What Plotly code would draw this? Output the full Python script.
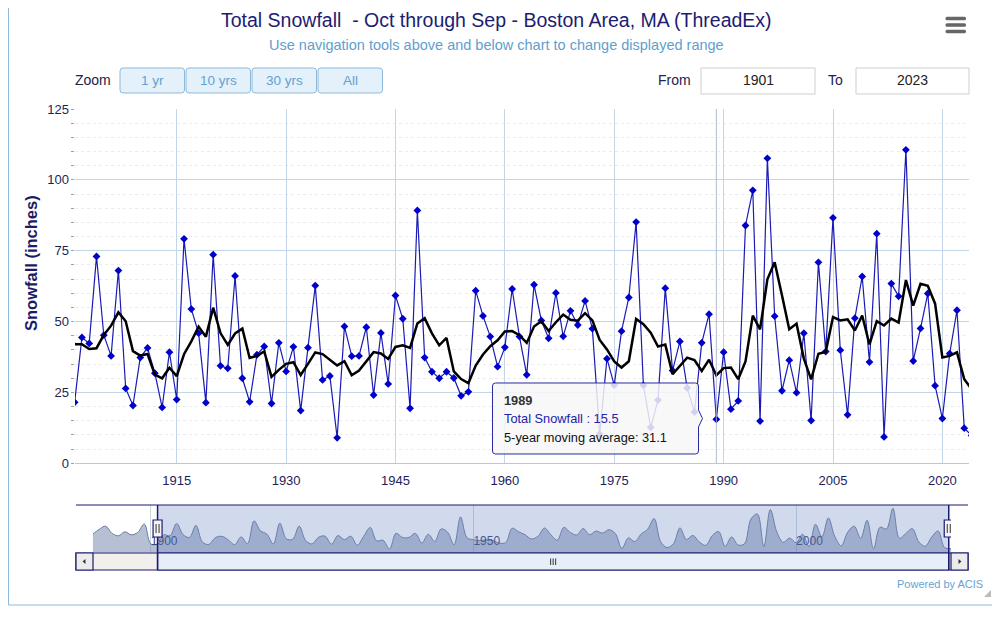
import numpy as np
import plotly.graph_objects as go

# ---------------- data ----------------
years = list(range(1891, 2025))
snowfall = [
    46.0, 58.0, 66.0, 48.0, 42.0, 52.0, 44.4, 50.8, 71.5, 21.8,          # 1891-1900
    21.5,                                                                 # 1901
    44.4, 42.3, 73.0, 45.2, 37.9, 68.0, 26.4, 20.4, 37.3, 40.7,           # 1902-1911
    31.8, 19.7, 39.2, 22.5, 79.2, 54.4, 45.9, 21.4, 73.6, 34.4,           # 1912-1921
    33.5, 66.1, 30.0, 21.7, 38.3, 41.2, 21.1, 42.5, 32.4, 41.1,           # 1922-1931
    18.6, 40.8,                                                           # 1932-1933
    62.7, 29.4, 30.8, 9.0, 48.3, 37.8, 37.9, 48.0, 24.1, 46.0,            # 1934-1943
    28.0, 59.2, 51.0, 19.4, 89.2, 37.3, 32.3, 30.0, 32.3, 30.1,           # 1944-1953
    23.8, 25.2, 60.9, 52.0, 44.7, 34.1, 40.9, 61.5, 44.7, 31.2,           # 1954-1963
    63.0, 50.4, 44.1, 60.1, 44.8, 53.8, 48.8, 57.3, 47.5, 10.3,           # 1964-1973
    36.9, 27.6, 46.6, 58.5, 85.1, 27.5, 12.7, 22.3, 61.8, 32.7,           # 1974-1983
    43.0, 26.6, 18.1, 42.5, 52.6, 15.5, 39.2, 19.1, 22.0, 83.9,           # 1984-1993
    96.3, 14.9, 107.6, 51.9, 25.6, 36.4, 24.9, 45.9, 15.1, 70.9,          # 1994-2003
    39.4, 86.6, 39.9, 17.1, 51.2, 65.9, 35.7, 81.0, 9.3, 63.4,            # 2004-2013
    58.9, 110.6, 36.1, 47.6, 59.9, 27.4, 15.8, 38.7, 54.0, 12.4,          # 2014-2023
    9.8,                                                                  # 2024
]
assert len(snowfall) == len(years)

ma_window = 5
x_view = [1901.05, 2023.65]
main_ticks = [1915, 1930, 1945, 1960, 1975, 1990, 2005, 2020]
nav_ticks = [1900, 1950, 2000]
y_ticks = [0, 25, 50, 75, 100, 125]
hover_year = 1989
range_buttons = ["1 yr", "10 yrs", "30 yrs", "All"]
from_year, to_year = "1901", "2023"

# trailing 5-year moving average (as in the source chart)
ma_vals = np.convolve(np.array(snowfall), np.ones(ma_window) / ma_window, mode="valid")
ma_years = years[ma_window - 1:]

# ---------------- pixel helpers (screen coordinates) ----------------
W, H = 1000, 620
OFF = 8               # page body margin
L, R = 75, 969
T, B = 109, 570
def fx(x):
    return (x - L) / (R - L)
def fy(y):
    return (B - y) / (B - T)
def pt(x, y):
    return f"{fx(x):.5f},{fy(y):.5f}"

def rrect(x0, y0, x1, y1, r):
    return (f"M {pt(x0 + r, y0)} L {pt(x1 - r, y0)} Q {pt(x1, y0)} {pt(x1, y0 + r)} "
            f"L {pt(x1, y1 - r)} Q {pt(x1, y1)} {pt(x1 - r, y1)} L {pt(x0 + r, y1)} "
            f"Q {pt(x0, y1)} {pt(x0, y1 - r)} L {pt(x0, y0 + r)} Q {pt(x0, y0)} {pt(x0 + r, y0)} Z")

NAVY = "#1a1a6e"
GRID = "#c3d5e8"
FONT = "Liberation Sans, Arial, sans-serif"

fig = go.Figure()

# navigator series
fig.add_trace(go.Scatter(
    x=years, y=snowfall, xaxis="x2", yaxis="y2", mode="lines",
    line=dict(shape="spline", smoothing=1.0, color="rgb(108,124,160)", width=1),
    fill="tozeroy", fillcolor="rgba(110,128,168,0.5)", hoverinfo="skip"))

# main series
fig.add_trace(go.Scatter(
    x=years, y=snowfall, mode="lines+markers", name="Total Snowfall",
    line=dict(color="#1a1ab4", width=1.2),
    marker=dict(symbol="diamond", size=6, color="#0000cc"), cliponaxis=True))
fig.add_trace(go.Scatter(
    x=ma_years, y=ma_vals, mode="lines", name="5-year moving average",
    line=dict(color="black", width=2.5)))

shapes = []
ann = []

# chart border
shapes.append(dict(type="rect", xref="paper", yref="paper", x0=fx(8.5), x1=fx(997),
                   y0=fy(605), y1=fy(-5), line=dict(color="#8fbadb", width=1)))

# crosshair at hovered year
shapes.append(dict(type="line", xref="x", yref="paper", x0=hover_year, x1=hover_year,
                   y0=fy(463), y1=1, line=dict(color="rgba(170,180,205,0.9)", width=1), layer="above"))

# tooltip
tip = (f"M {pt(495.5, 383)} L {pt(695.5, 383)} Q {pt(698.5, 383)} {pt(698.5, 386)} "
       f"L {pt(698.5, 410)} L {pt(702.5, 418.5)} L {pt(698.5, 427)} L {pt(698.5, 451)} "
       f"Q {pt(698.5, 454)} {pt(695.5, 454)} L {pt(495.5, 454)} Q {pt(492.5, 454)} {pt(492.5, 451)} "
       f"L {pt(492.5, 386)} Q {pt(492.5, 383)} {pt(495.5, 383)} Z")
shapes.append(dict(type="path", xref="paper", yref="paper", path=tip,
                   fillcolor="rgba(247,247,247,0.85)", line=dict(color="#2a2aa0", width=1), layer="above"))
hi = years.index(hover_year)
mi = ma_years.index(hover_year)
for txt, yy, col in [(f"<b>{hover_year}</b>", 400, "#333333"),
                     (f"Total Snowfall : {snowfall[hi]}", 418.5, "#2222aa"),
                     (f"5-year moving average: {ma_vals[mi]:.1f}", 437, "#111111")]:
    ann.append(dict(x=fx(502), y=fy(yy), xref="paper", yref="paper", text=txt, showarrow=False,
                    xanchor="left", yanchor="middle", font=dict(size=12.8, color=col, family=FONT)))

# title / subtitle
ann.append(dict(x=fx(496), y=fy(20), xref="paper", yref="paper",
                text="Total Snowfall  - Oct through Sep - Boston Area, MA (ThreadEx)",
                showarrow=False, xanchor="center", yanchor="middle",
                font=dict(size=19.5, color="#1c1c70", family=FONT)))
ann.append(dict(x=fx(496), y=fy(45), xref="paper", yref="paper",
                text="Use navigation tools above and below chart to change displayed range",
                showarrow=False, xanchor="center", yanchor="middle",
                font=dict(size=14.5, color="#5fa0cd", family=FONT)))

# y-axis title
ann.append(dict(x=fx(31), y=fy(263), xref="paper", yref="paper", text="<b>Snowfall (inches)</b>",
                showarrow=False, textangle=-90, xanchor="center", yanchor="middle",
                font=dict(size=16.5, color="#1c1c66", family=FONT)))

# range selector
ann.append(dict(x=fx(113), y=fy(80), xref="paper", yref="paper", text="Zoom", showarrow=False,
                xanchor="right", yanchor="middle", font=dict(size=14, color="#22224a", family=FONT)))
bx = [(120, 184.5), (186, 250.5), (252, 316.5), (318, 382.5)]
for (x0, x1), lab in zip(bx, range_buttons):
    shapes.append(dict(type="path", xref="paper", yref="paper", path=rrect(x0, 68, x1, 93, 3),
                       fillcolor="#e4f0fa", line=dict(color="#8dbadb", width=1)))
    ann.append(dict(x=fx((x0 + x1) / 2), y=fy(80), xref="paper", yref="paper", text=lab,
                    showarrow=False, xanchor="center", yanchor="middle",
                    font=dict(size=13.5, color="#62a2d2", family=FONT)))

# From / To inputs
ann.append(dict(x=fx(693), y=fy(80), xref="paper", yref="paper", text="From", showarrow=False,
                xanchor="right", yanchor="middle", font=dict(size=14, color="#22224a", family=FONT)))
ann.append(dict(x=fx(845), y=fy(80), xref="paper", yref="paper", text="To", showarrow=False,
                xanchor="right", yanchor="middle", font=dict(size=14, color="#22224a", family=FONT)))
for (x0, x1), lab in [((701, 815), from_year), ((856, 969), to_year)]:
    shapes.append(dict(type="rect", xref="paper", yref="paper", x0=fx(x0), x1=fx(x1),
                       y0=fy(94), y1=fy(68), fillcolor="white", line=dict(color="#cfcfcf", width=1)))
    ann.append(dict(x=fx((x0 + x1) / 2), y=fy(80), xref="paper", yref="paper", text=lab,
                    showarrow=False, xanchor="center", yanchor="middle",
                    font=dict(size=14, color="#222222", family=FONT)))

# hamburger menu
for yc in (18.5, 25, 31.5):
    shapes.append(dict(type="path", xref="paper", yref="paper",
                       path=rrect(945.5, yc - 1.7, 966, yc + 1.7, 1.5),
                       fillcolor="#666666", line=dict(width=0)))

# ---- navigator ----
shapes.append(dict(type="rect", xref="x2", yref="paper", x0=x_view[0], x1=x_view[1],
                   y0=fy(553), y1=fy(505), fillcolor="rgba(102,133,194,0.3)",
                   line=dict(width=0), layer="above"))
shapes.append(dict(type="line", xref="paper", yref="paper", x0=fx(76), x1=fx(968),
                   y0=fy(505), y1=fy(505), line=dict(color=NAVY, width=1.2)))
# scrollbar
shapes.append(dict(type="rect", xref="paper", yref="paper", x0=fx(76), x1=fx(968),
                   y0=fy(570), y1=fy(553), fillcolor="#f1f0ec", line=dict(color=NAVY, width=1.2)))
shapes.append(dict(type="rect", xref="x2", yref="paper", x0=x_view[0], x1=x_view[1],
                   y0=fy(570), y1=fy(553), fillcolor="#e6eef8", line=dict(color=NAVY, width=1.2)))
for x0, x1 in [(76, 93), (951, 968)]:
    shapes.append(dict(type="rect", xref="paper", yref="paper", x0=fx(x0), x1=fx(x1),
                       y0=fy(570), y1=fy(553), fillcolor="#ececec", line=dict(color=NAVY, width=1.2)))
shapes.append(dict(type="path", xref="paper", yref="paper",
                   path=f"M {pt(82.5, 561.5)} L {pt(85.5, 559)} L {pt(85.5, 564)} Z",
                   fillcolor="#333333", line=dict(width=0)))
shapes.append(dict(type="path", xref="paper", yref="paper",
                   path=f"M {pt(961.5, 561.5)} L {pt(958.5, 559)} L {pt(958.5, 564)} Z",
                   fillcolor="#333333", line=dict(width=0)))
mid = (x_view[0] + x_view[1]) / 2
for off in (-2.5, 0, 2.5):
    shapes.append(dict(type="line", xref="x2", yref="paper", xsizemode="pixel", xanchor=mid,
                       x0=off, x1=off, y0=fy(565), y1=fy(558.5), line=dict(color="#333333", width=1)))
# handles
for xv in x_view:
    shapes.append(dict(type="line", xref="x2", yref="paper", x0=xv, x1=xv,
                       y0=fy(570), y1=fy(505), line=dict(color=NAVY, width=1.5)))
    shapes.append(dict(type="rect", xref="x2", yref="paper", xsizemode="pixel", xanchor=xv,
                       x0=-4.5, x1=4.5, y0=fy(537), y1=fy(520), fillcolor="#f4f4f4",
                       line=dict(color=NAVY, width=1.2)))
    for off in (-1.5, 1.5):
        shapes.append(dict(type="line", xref="x2", yref="paper", xsizemode="pixel", xanchor=xv,
                           x0=off, x1=off, y0=fy(533), y1=fy(524), line=dict(color="#333333", width=1)))

# powered by + resize grip
ann.append(dict(x=fx(985), y=fy(584), xref="paper", yref="paper", text="Powered by ACIS",
                showarrow=False, xanchor="right", yanchor="middle",
                font=dict(size=11, color="#67a3cf", family=FONT)))
shapes.append(dict(type="path", xref="paper", yref="paper",
                   path=f"M {pt(984, 597)} L {pt(991, 597)} L {pt(991, 590)} Z",
                   fillcolor="#bbbbbb", line=dict(width=0)))

fig.update_layout(
    width=W, height=H,
    margin=dict(l=L - OFF, r=W - (R - OFF), t=T - OFF, b=H - (B - OFF), autoexpand=False),
    paper_bgcolor="white", plot_bgcolor="white",
    showlegend=False, hovermode=False,
    font=dict(family=FONT),
    xaxis=dict(domain=[0, 1], range=x_view, anchor="y", tickvals=main_ticks,
               showgrid=True, gridcolor=GRID, gridwidth=1, zeroline=False,
               showline=True, linecolor="#b3cae0", ticks="", ticklabelstandoff=5,
               tickfont=dict(size=13, color="#1e1e5a")),
    yaxis=dict(domain=[fy(463.3), 1], range=[0, 125], anchor="x", tickvals=y_ticks,
               showgrid=True, gridcolor=GRID, gridwidth=1, zeroline=False, showline=False,
               ticks="", ticklabelstandoff=5, tickfont=dict(size=13, color="#1e1e5a"),
               minor=dict(dtick=5, tick0=0, showgrid=True, gridcolor="#e8ecf1", griddash="dot",
                          ticks="outside", ticklen=3, tickcolor="#a0a0a0")),
    xaxis2=dict(domain=[fx(92.7), fx(951)], range=[years[0], years[-1]], anchor="y2",
                tickvals=nav_ticks, showgrid=True, gridcolor="#ccd5e3", zeroline=False,
                showline=False, ticks="", ticklabelposition="inside right",
                tickfont=dict(size=12, color="#3c4678")),
    yaxis2=dict(domain=[fy(553), fy(505)], range=[-1, 119], anchor="x2", visible=False,
                showgrid=False, zeroline=False),
    shapes=shapes, annotations=ann,
)

fig.write_html("out.html", config={"displayModeBar": False})
